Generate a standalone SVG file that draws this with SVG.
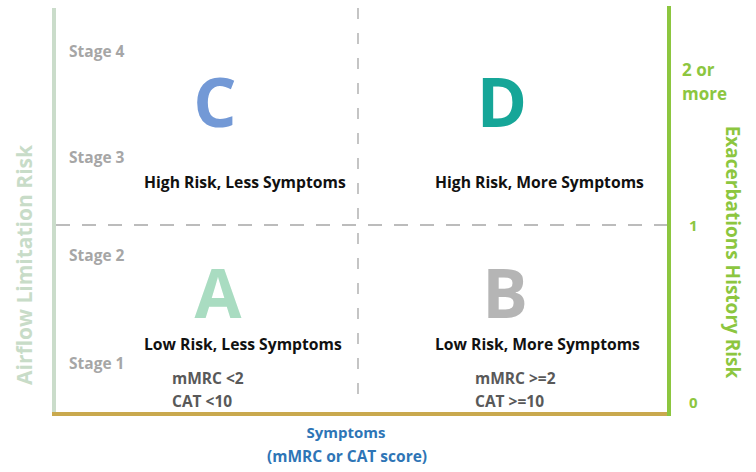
<svg xmlns="http://www.w3.org/2000/svg" width="756" height="472" viewBox="0 0 756 472">
<style>
text{font-family:"Open Sans","Liberation Sans",sans-serif;font-weight:bold}
.stage{fill:#a6a6a6;font-size:15.5px}
.big{font-size:68px;text-anchor:middle}
.lbl{fill:#111;font-size:15.7px}
.crit{fill:#595959;font-size:15.5px}
.dash{stroke:#a6a6a6;stroke-width:1.3;fill:none}
</style>
<rect width="756" height="472" fill="#fff"/>
<g id="connectors">
<line class="dash" x1="358" y1="8" x2="358" y2="408" stroke-dasharray="11 14"/>
<line class="dash" x1="56" y1="225" x2="668" y2="225" stroke-dasharray="14 12"/>
<line x1="54" y1="8" x2="54" y2="414" stroke="#cadcca" stroke-width="4"/>
<line x1="52" y1="414" x2="671" y2="414" stroke="#c9a94e" stroke-width="4"/>
<line x1="669" y1="6" x2="669" y2="416" stroke="#8cc63f" stroke-width="4"/>
</g>
<g id="stages">
<text class="stage" x="69" y="57">Stage 4</text>
<text class="stage" x="69" y="163">Stage 3</text>
<text class="stage" x="69" y="261">Stage 2</text>
<text class="stage" x="69" y="369">Stage 1</text>
</g>
<g id="quadC">
<text class="big" x="215" y="127" fill="#7399d6">C</text>
<text class="lbl" x="144" y="188">High Risk, Less Symptoms</text>
</g>
<g id="quadD">
<text class="big" x="502" y="127" fill="#16a698">D</text>
<text class="lbl" x="435" y="188">High Risk, More Symptoms</text>
</g>
<g id="quadA">
<text class="big" x="218" y="318" fill="#a9dcc1">A</text>
<text class="lbl" x="144" y="350">Low Risk, Less Symptoms</text>
<text class="crit" x="172" y="384">mMRC &lt;2</text>
<text class="crit" x="172" y="407">CAT &lt;10</text>
</g>
<g id="quadB">
<text class="big" x="505" y="318" fill="#b5b5b5">B</text>
<text class="lbl" x="435" y="350">Low Risk, More Symptoms</text>
<text class="crit" x="475" y="384">mMRC &gt;=2</text>
<text class="crit" x="475" y="407">CAT &gt;=10</text>
</g>
<g id="xaxis">
<text x="346" y="438" fill="#2e75b6" font-size="15" text-anchor="middle">Symptoms</text>
<text x="347" y="462" fill="#2e75b6" font-size="15.5" text-anchor="middle">(mMRC or CAT score)</text>
</g>
<g id="leftaxis">
<text transform="translate(32,265) rotate(-90)" fill="#c8dcc8" font-size="21" text-anchor="middle">Airflow Limitation Risk</text>
</g>
<g id="rightaxis">
<text transform="translate(726,252) rotate(90)" fill="#8cc63f" font-size="19" text-anchor="middle">Exacerbations History Risk</text>
<text x="682" y="76" fill="#8cc63f" font-size="17">2 or</text>
<text x="682" y="100" fill="#8cc63f" font-size="17">more</text>
<text x="689" y="231" fill="#8cc63f" font-size="15" font-weight="normal">1</text>
<text x="689" y="408" fill="#8cc63f" font-size="15" font-weight="normal">0</text>
</g>
</svg>
